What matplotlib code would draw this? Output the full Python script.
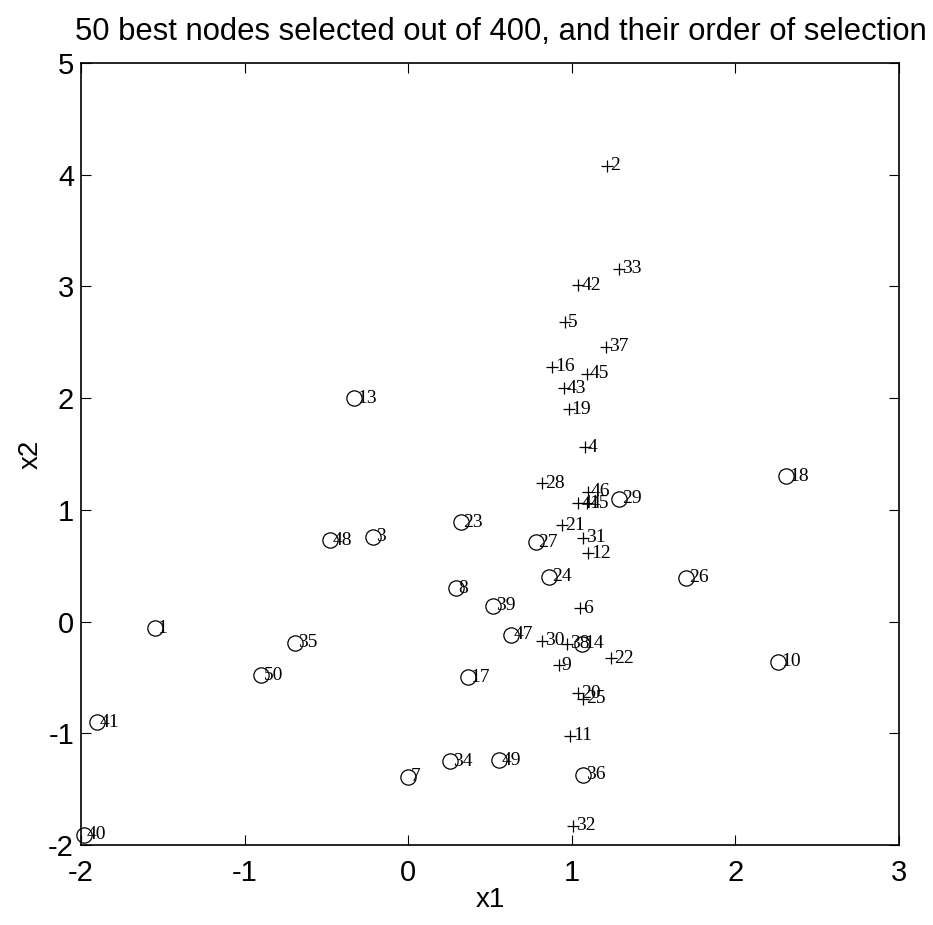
import matplotlib
matplotlib.use("Agg")
import matplotlib.pyplot as plt

# Selected nodes: selection order, coordinates, and marker class
plus_order = [2, 33, 42, 5, 37, 16, 45, 43, 19, 4, 28, 46, 44, 15, 21, 31, 12,
              6, 30, 38, 9, 22, 20, 25, 11, 32]
plus_x = [1.215, 1.29, 1.04, 0.96, 1.21, 0.88, 1.09, 0.95, 0.98, 1.08, 0.82, 1.10,
          1.04, 1.09, 0.94, 1.07, 1.10, 1.05, 0.82, 0.97, 0.92, 1.24, 1.04, 1.07,
          0.99, 1.01]
plus_y = [4.08, 3.16, 3.01, 2.68, 2.46, 2.28, 2.22, 2.09, 1.90, 1.56, 1.24, 1.16,
          1.06, 1.06, 0.86, 0.75, 0.61, 0.12, -0.17, -0.20, -0.39, -0.33, -0.64,
          -0.69, -1.02, -1.83]

circ_order = [13, 18, 29, 23, 27, 3, 48, 24, 26, 8, 39, 1, 47, 14, 35, 10, 50, 17,
              41, 34, 49, 36, 7, 40]
circ_x = [-0.33, 2.31, 1.29, 0.32, 0.78, -0.215, -0.48, 0.86, 1.70, 0.29, 0.52,
          -1.55, 0.63, 1.06, -0.69, 2.26, -0.90, 0.365, -1.90, 0.255, 0.555, 1.07,
          0.0, -1.98]
circ_y = [2.00, 1.30, 1.10, 0.89, 0.71, 0.76, 0.73, 0.40, 0.39, 0.30, 0.14, -0.06,
          -0.12, -0.20, -0.19, -0.36, -0.48, -0.50, -0.90, -1.25, -1.24, -1.37,
          -1.39, -1.91]

x_ticks = [-2, -1, 0, 1, 2, 3]
y_ticks = [-2, -1, 0, 1, 2, 3, 4, 5]

sans = ["Liberation Sans", "DejaVu Sans"]
serif = ["Liberation Serif", "DejaVu Serif"]

fig = plt.figure(figsize=(9.33, 9.25), dpi=100)
ax = fig.add_axes([0.0868, 0.0865, 0.8768, 0.8454])

ax.plot(plus_x, plus_y, linestyle="none", marker="+", markersize=9,
        markeredgewidth=0.9, color="black", clip_on=False)
ax.plot(circ_x, circ_y, linestyle="none", marker="o", markersize=11,
        markeredgewidth=0.9, markerfacecolor="none", color="black", clip_on=False)

for xs, ys, labels in ((plus_x, plus_y, plus_order), (circ_x, circ_y, circ_order)):
    for x, y, n in zip(xs, ys, labels):
        ax.annotate(str(n), (x, y), xytext=(2, 0), textcoords="offset points",
                    ha="left", va="center", fontsize=14, family=serif,
                    color="black", annotation_clip=False)

ax.set_xlim(-2, 3)
ax.set_ylim(-2, 5)
ax.set_xticks(x_ticks)
ax.set_yticks(y_ticks)
ax.set_xticklabels([str(t) for t in x_ticks])
ax.set_yticklabels([str(t) for t in y_ticks])
ax.tick_params(axis="both", direction="in", length=7, width=0.8, top=True,
               right=True, labelsize=21)
ax.tick_params(axis="x", pad=10)
ax.tick_params(axis="y", pad=5)
for lbl in ax.get_xticklabels() + ax.get_yticklabels():
    lbl.set_family(sans)
for s in ax.spines.values():
    s.set_linewidth(1.2)

ax.set_xlabel("x1", fontsize=20, family=sans, labelpad=0)
ax.set_ylabel("x2", fontsize=20, family=sans, labelpad=3)
fig.text(0.537, 0.965,
         "50 best nodes selected out of 400, and their order of selection",
         fontsize=22.3, family=sans, ha="center", va="center")

fig.savefig("out.png", dpi=100)
